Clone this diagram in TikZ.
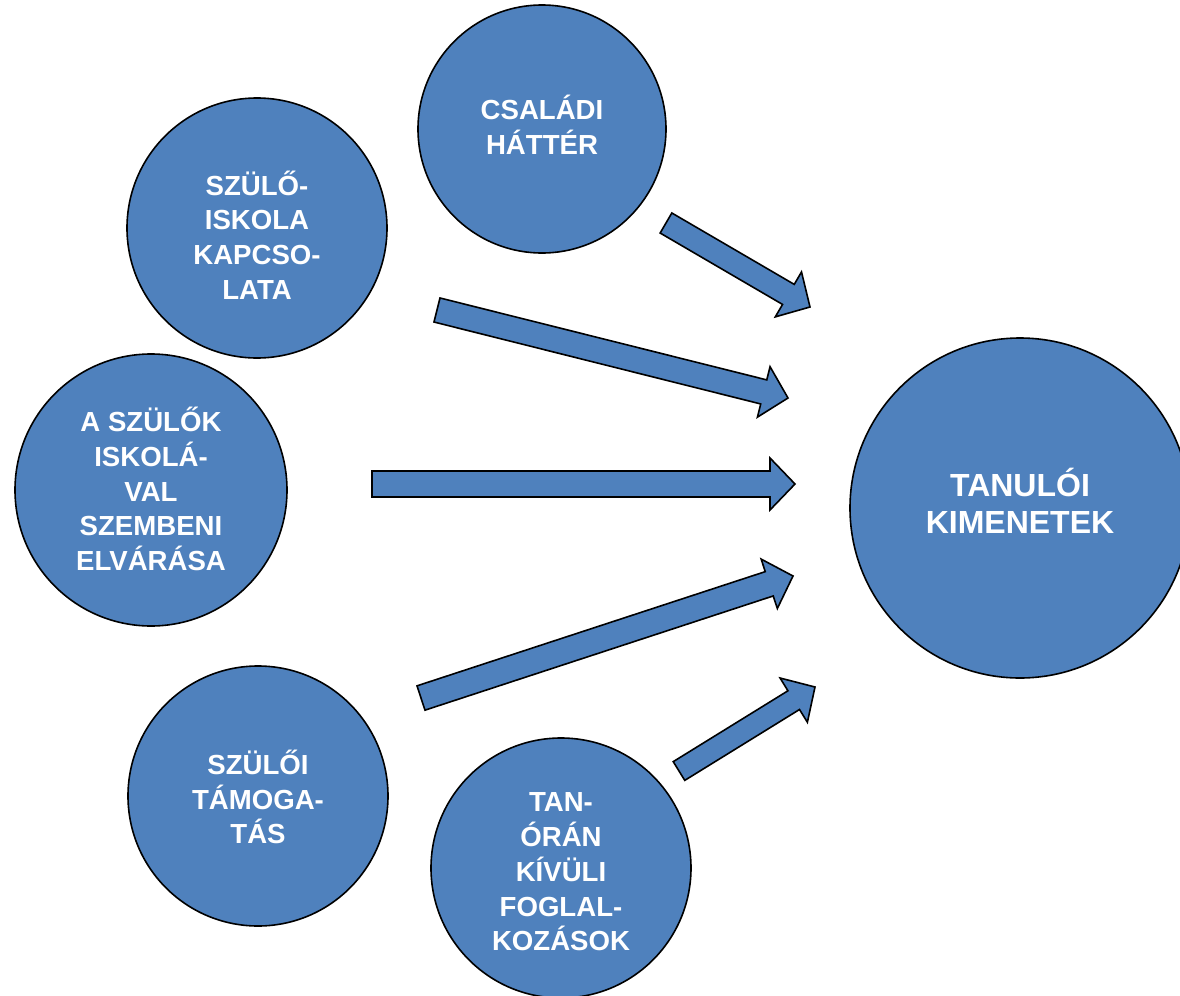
\documentclass[tikz,border=0pt]{standalone}
\usepackage{fontspec}
\setmainfont{Liberation Sans}
\usetikzlibrary{calc}
\definecolor{cblue}{RGB}{79,129,189}
\tikzset{
  bubble/.style={circle, draw=black, line width=0.8pt, fill=cblue, inner sep=0pt},
  btext/.style={text=white, align=center, inner sep=0pt, font=\fontsize{13.8}{17.4}\selectfont\bfseries},
  bigtext/.style={btext, font=\fontsize{16}{18.8}\selectfont\bfseries},
  barrow/.style={draw=black, line width=0.8pt, fill=cblue, line join=miter}
}
\newcommand\blockarrow[3]{%
  \coordinate (#1h) at ($(#2)!12.5pt!(#1)$);
  \draw[barrow] ($(#1)!#3!90:(#2)$) -- ($(#1h)!#3!90:(#2)$) -- ($(#1h)!13pt!90:(#2)$)
    -- (#2) -- ($(#1h)!13pt!-90:(#2)$) -- ($(#1h)!#3!-90:(#2)$) -- ($(#1)!#3!-90:(#2)$) -- cycle;
}
\begin{document}
\begin{tikzpicture}[x=0.5pt,y=-0.5pt]
\useasboundingbox (0,0) rectangle (1180,996);
\fill[white] (0,0) rectangle (1180,996);
\node[bubble, minimum size=124pt] (csal) at (542,129) {};
\node[btext] (csalT) at (542,125) {CSALÁDI\\HÁTTÉR};
\node[bubble, minimum size=130pt] (kapcs) at (257,228) {};
\node[btext] (kapcsT) at (257,235) {SZÜLŐ-\\ISKOLA\\KAPCSO-\\LATA};
\node[bubble, minimum size=136pt] (elv) at (151,490) {};
\node[btext] (elvT) at (151,489) {A SZÜLŐK\\ISKOLÁ-\\VAL\\SZEMBENI\\ELVÁRÁSA};
\node[bubble, minimum size=130pt] (tam) at (258,796) {};
\node[btext] (tamT) at (258,797) {SZÜLŐI\\TÁMOGA-\\TÁS};
\node[bubble, minimum size=130pt] (fog) at (561,868) {};
\node[btext] (fogT) at (561,872) {TAN-\\ÓRÁN\\KÍVÜLI\\FOGLAL-\\KOZÁSOK};
\node[bubble, minimum size=170pt] (kim) at (1020,508) {};
\node[bigtext] (kimT) at (1020,501) {TANULÓI\\KIMENETEK};
\coordinate (t1) at (666,223); \coordinate (p1) at (810,307);
\coordinate (t2) at (437,310); \coordinate (p2) at (788,398);
\coordinate (t3) at (372,484); \coordinate (p3) at (795,484);
\coordinate (t4) at (421,698); \coordinate (p4) at (793,576);
\coordinate (t5) at (679,771); \coordinate (p5) at (815,687);
\blockarrow{t1}{p1}{5.8pt}
\blockarrow{t2}{p2}{6.2pt}
\blockarrow{t3}{p3}{6.5pt}
\blockarrow{t4}{p4}{6.4pt}
\blockarrow{t5}{p5}{5.5pt}
\end{tikzpicture}
\end{document}
